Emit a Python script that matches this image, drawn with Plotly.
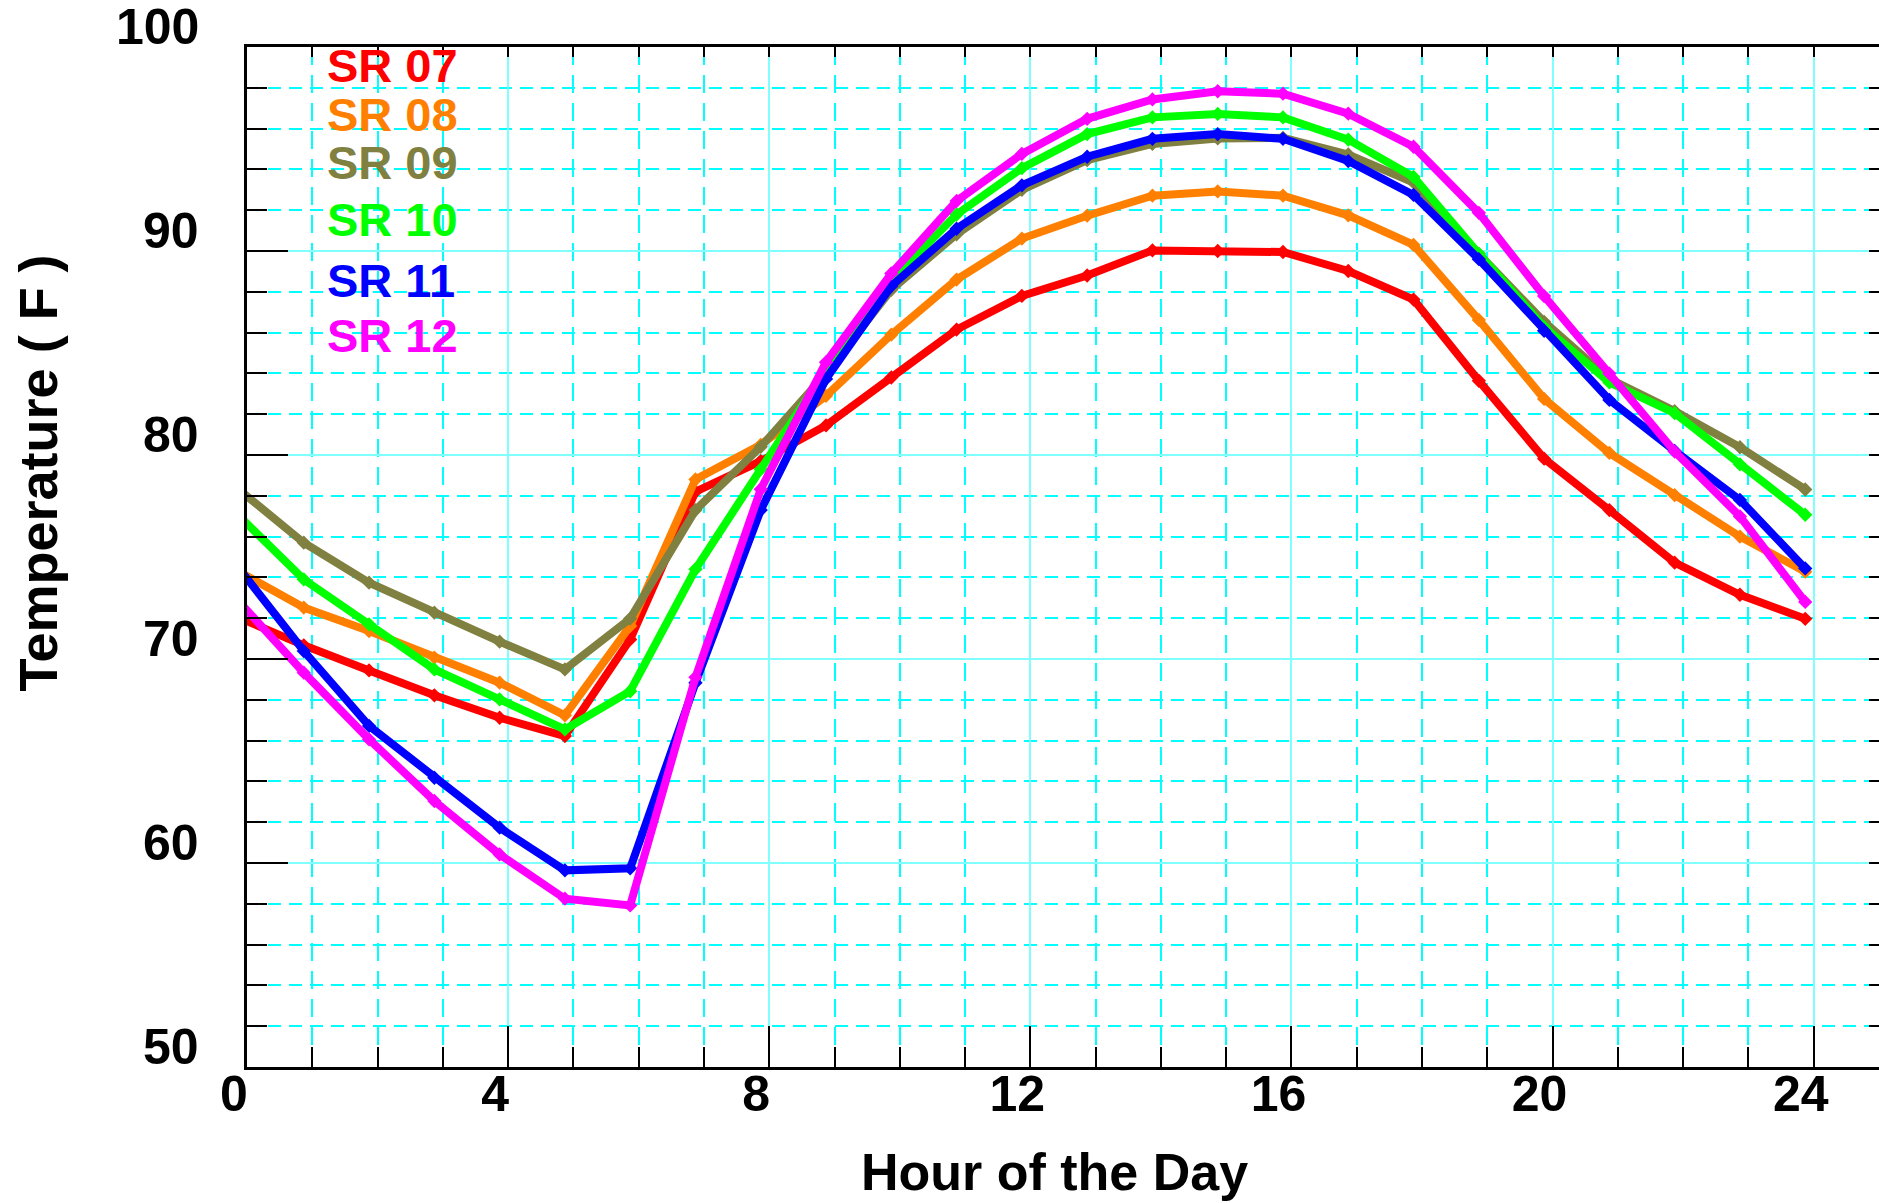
import plotly.graph_objects as go

# ---------------- data ----------------
HOURS = [0, 1, 2, 3, 4, 5, 6, 7, 8, 9, 10, 11, 12, 13, 14, 15, 16, 17, 18, 19, 20, 21, 22, 23, 24]

SR07 = [72.03, 70.67, 69.44, 68.22, 67.12, 66.22, 70.96, 78.2, 79.7, 81.45, 83.8, 86.15, 87.8,
        88.8, 90.03, 90.0, 89.95, 89.02, 87.62, 83.64, 79.82, 77.3, 74.72, 73.15, 71.97]
SR08 = [74.3, 72.52, 71.37, 70.07, 68.84, 67.24, 71.62, 78.8, 80.5, 82.9, 85.9, 88.6, 90.61,
        91.73, 92.71, 92.92, 92.71, 91.75, 90.3, 86.62, 82.75, 80.1, 78.03, 76.0, 74.28]
SR09 = [78.32, 75.7, 73.74, 72.27, 70.85, 69.49, 71.98, 77.3, 80.4, 84.0, 88.1, 90.82, 93.0,
        94.45, 95.25, 95.52, 95.55, 94.73, 93.36, 89.86, 86.53, 83.73, 82.15, 80.38, 78.31]
SR10 = [77.04, 73.9, 71.7, 69.49, 68.02, 66.55, 68.42, 74.4, 79.3, 84.2, 88.55, 91.79, 94.06,
        95.73, 96.55, 96.72, 96.55, 95.46, 93.63, 89.86, 86.27, 83.56, 82.05, 79.54, 77.07]
SR11 = [74.48, 70.39, 66.72, 64.18, 61.73, 59.64, 59.74, 68.83, 77.3, 83.73, 88.28, 91.09, 93.22,
        94.62, 95.5, 95.73, 95.5, 94.41, 92.75, 89.6, 86.09, 82.7, 80.2, 77.8, 74.44]
SR12 = [72.84, 69.33, 66.06, 63.04, 60.42, 58.25, 57.92, 69.1, 78.32, 84.55, 88.9, 92.45, 94.76,
        96.48, 97.43, 97.83, 97.71, 96.73, 95.11, 91.87, 87.79, 83.99, 80.17, 76.99, 72.8]

SERIES_NAMES = ["SR 07", "SR 08", "SR 09", "SR 10", "SR 11", "SR 12"]
SERIES_VALUES = [SR07, SR08, SR09, SR10, SR11, SR12]

Y_TICKS = [50, 60, 70, 80, 90, 100]
Y_TICK_LABELS = ["50", "60", "70", "80", "90", "100"]

X_TITLE = "Hour of the Day"
Y_TITLE = "Temperature ( F )"

# ---------------- style ----------------
COLORS = ["#ff0000", "#ff8000", "#808040", "#00ff00", "#0000ff", "#ff00ff"]
LEGEND_Y = [0.9814, 0.9343, 0.8863, 0.8304, 0.7706, 0.7167]
FONT = "Liberation Sans, Arial, sans-serif"
MAJOR_GRID = "#80ffff"
MINOR_GRID = "#00ffff"

fig = go.Figure()
for name, vals, color in zip(SERIES_NAMES, SERIES_VALUES, COLORS):
    fig.add_trace(go.Scatter(
        x=HOURS, y=vals, name=name, mode="lines+markers",
        line=dict(color=color, width=8),
        marker=dict(symbol="diamond", size=11, color=color),
        xaxis="x", yaxis="y", showlegend=False, cliponaxis=False,
    ))

# helper empty traces so overlay axes get drawn
for xa, ya in [("x2", "y"), ("x3", "y"), ("x", "y2")]:
    fig.add_trace(go.Scatter(x=[None], y=[None], xaxis=xa, yaxis=ya,
                             showlegend=False, hoverinfo="skip"))

tick_font = dict(family=FONT, size=50, color="black", weight="bold")

fig.update_layout(
    width=1879, height=1203,
    margin=dict(l=247, r=0, t=47, b=136),
    paper_bgcolor="white", plot_bgcolor="white",
    showlegend=False,
    xaxis=dict(range=[0.13, 25.13], visible=False),
    xaxis2=dict(
        overlaying="x", anchor="y", side="bottom", range=[0, 25],
        tick0=0, dtick=4, ticks="inside", ticklen=41, tickwidth=2, tickcolor="black",
        showline=True, linewidth=3, linecolor="black", zeroline=False,
        showgrid=True, gridcolor=MAJOR_GRID, gridwidth=2,
        minor=dict(tick0=0, dtick=1, ticks="inside", ticklen=20, tickwidth=2, tickcolor="black",
                   showgrid=True, gridcolor=MINOR_GRID, gridwidth=2, griddash="18px,10px"),
        tickfont=tick_font, ticklabelshift=-13, ticklabelstandoff=-19,
    ),
    xaxis3=dict(
        overlaying="x", anchor="y", side="top", range=[0, 25],
        tick0=0, dtick=1, ticks="inside", ticklen=10, tickwidth=2, tickcolor="black",
        showline=True, linewidth=3, linecolor="black", zeroline=False,
        showgrid=False, showticklabels=False,
    ),
    yaxis=dict(
        range=[50, 100], anchor="x",
        tickmode="array", tickvals=Y_TICKS, ticks="inside", ticklen=41, tickwidth=2,
        tickcolor="black", showticklabels=False,
        showline=True, linewidth=3, linecolor="black", zeroline=False,
        showgrid=True, gridcolor=MAJOR_GRID, gridwidth=2,
        minor=dict(tick0=50, dtick=2, ticks="inside", ticklen=20, tickwidth=2, tickcolor="black",
                   showgrid=True, gridcolor=MINOR_GRID, gridwidth=2, griddash="13px,8px"),
    ),
    yaxis2=dict(
        overlaying="y", anchor="x", side="right", range=[50, 100],
        tick0=50, dtick=2, ticks="inside", ticklen=10, tickwidth=2, tickcolor="black",
        showline=False, zeroline=False, showgrid=False, showticklabels=False,
    ),
)

annotations = []
# y tick labels (drawn slightly above their tick lines, as in the original)
for val, lab in zip(Y_TICKS, Y_TICK_LABELS):
    annotations.append(dict(
        text=lab, xref="paper", yref="y", x=-0.0282, y=val, yshift=20,
        xanchor="right", yanchor="middle", showarrow=False,
        font=tick_font,
    ))
for name, color, ly in zip(SERIES_NAMES, COLORS, LEGEND_Y):
    annotations.append(dict(
        text=name, xref="paper", yref="paper", x=0.0478, y=ly,
        xanchor="left", yanchor="middle", showarrow=False,
        font=dict(family=FONT, size=47, color=color, weight="bold"),
    ))
annotations.append(dict(
    text=X_TITLE, xref="paper", yref="paper", x=0.4945, y=-0.103,
    xanchor="center", yanchor="middle", showarrow=False,
    font=dict(family=FONT, size=52, color="black", weight="bold"),
))
annotations.append(dict(
    text=Y_TITLE, xref="paper", yref="paper", x=-0.128, y=0.582, textangle=-90,
    xanchor="center", yanchor="middle", showarrow=False,
    font=dict(family=FONT, size=54, color="black", weight="bold"),
))
fig.update_layout(annotations=annotations)

fig.write_html("out.html")
